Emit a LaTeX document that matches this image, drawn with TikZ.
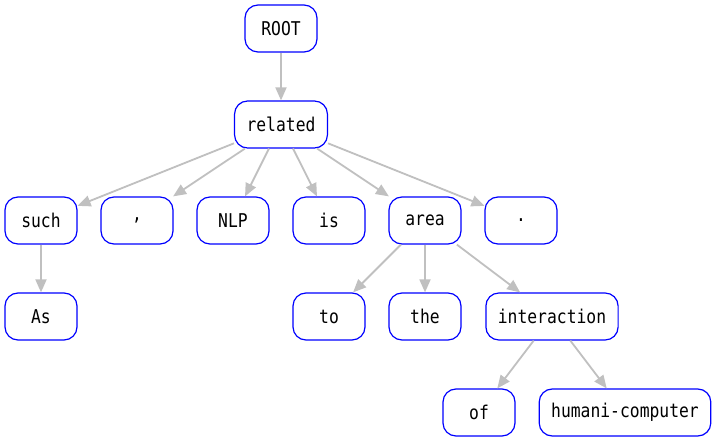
\documentclass[tikz,border=0pt]{standalone}
\usepackage{fontspec}
\setmonofont[FakeStretch=0.86]{DejaVu Sans Mono}
\usetikzlibrary{arrows.meta}
\definecolor{edgegray}{RGB}{192,192,192}
\definecolor{nodeblue}{RGB}{0,0,255}
\begin{document}
\begin{tikzpicture}[x=1pt,y=-1pt,
  word/.style={draw=nodeblue, line width=1.2pt, rounded corners=13pt, fill=white,
    minimum width=72pt, minimum height=47pt, inner xsep=12pt,
    font=\fontsize{19}{21}\selectfont\ttfamily, text=black},
  dep/.style={draw=edgegray, line width=1.8pt, -{Triangle[length=13pt,width=11pt]}}]
\useasboundingbox (0,0) rectangle (717,443);
\node[word] (root) at (281,28.5) {ROOT};
\node[word] (related) at (281,124.5) {related};
\node[word] (such) at (41,220.5) {such};
\node[word] (comma) at (137,220.5) {,};
\node[word] (nlp) at (233,220.5) {NLP};
\node[word] (is) at (329,220.5) {is};
\node[word] (area) at (425,220.5) {area};
\node[word] (dot) at (521,220.5) {.};
\node[word] (as) at (41,316.5) {As};
\node[word] (to) at (329,316.5) {to};
\node[word] (the) at (425,316.5) {the};
\node[word] (inter) at (552,316.5) {interaction};
\node[word] (of) at (479,412.5) {of};
\node[word] (hc) at (625,412.5) {humani-computer};
\draw[dep] (root) -- (related);
\draw[dep] (related) -- (such);
\draw[dep] (related) -- (comma);
\draw[dep] (related) -- (nlp);
\draw[dep] (related) -- (is);
\draw[dep] (related) -- (area);
\draw[dep] (related) -- (dot);
\draw[dep] (such) -- (as);
\draw[dep] (area) -- (to);
\draw[dep] (area) -- (the);
\draw[dep] (area) -- (inter);
\draw[dep] (inter) -- (of);
\draw[dep] (inter) -- (hc);
\end{tikzpicture}
\end{document}
